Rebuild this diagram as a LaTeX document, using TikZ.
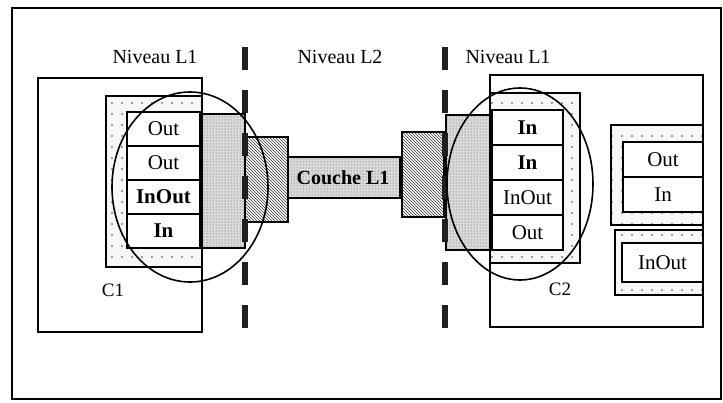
\documentclass[tikz,border=0pt]{standalone}
\usepackage{fontspec}
\setmainfont{Liberation Serif}
\usepackage{tikz}
\usetikzlibrary{positioning,patterns,shapes.geometric}
\pgfdeclarepatternformonly{sparse dots}{\pgfqpoint{-1pt}{-1pt}}{\pgfqpoint{10pt}{10pt}}{\pgfqpoint{10pt}{11pt}}{%
  \pgfpathcircle{\pgfqpoint{2pt}{2pt}}{0.9pt}\pgfusepath{fill}}

\begin{document}
\begin{tikzpicture}[
  x=1pt,y=-1pt,
  every node/.style={inner sep=0pt,outer sep=0pt},
  frame/.style={draw,line width=1.8pt},
  comp/.style={draw,line width=1.8pt,fill=white},
  grp/.style={draw,line width=1.8pt,preaction={fill=gray!6},pattern=sparse dots,pattern color=gray!50!black},
  port/.style={draw,line width=1.8pt,fill=white,font=\fontsize{21}{23}\selectfont},
  plug/.style={draw,line width=1.8pt,preaction={fill=gray!28},pattern=dots,pattern color=gray!55!black},
  jack/.style={draw,line width=1.8pt,preaction={fill=white},pattern=north west lines,pattern color=gray!40!black},
  cut/.style={line width=6pt,draw=gray!25!black,dash pattern=on 23pt off 20pt},
  zone/.style={draw,ellipse,line width=1.6pt},
  lvl/.style={font=\fontsize{20}{22}\selectfont}
]
\useasboundingbox (0,0) rectangle (723,402);
\node[frame,minimum width=709,minimum height=391] (page) at (366.5,203.5) {};

% levels
\node[lvl] (lvlA) at (155,57) {Niveau L1};
\node[lvl] (lvlB) at (340,57) {Niveau L2};
\node[lvl] (lvlC) at (508,57) {Niveau L1};

% component C1
\node[comp,minimum width=164,minimum height=254] (C1) at (120,205) {};
\node[grp,minimum width=96,minimum height=171] (grpA) at (154,181.5) {};
\node[port,minimum width=73,minimum height=34] (a1) at (163.5,129) {Out};
\node[port,minimum width=73,minimum height=34,below=0pt of a1] (a2) {Out};
\node[port,minimum width=73,minimum height=34,below=0pt of a2,font=\fontsize{21}{23}\selectfont\bfseries] (a3) {InOut};
\node[port,minimum width=73,minimum height=34,below=0pt of a3,font=\fontsize{21}{23}\selectfont\bfseries] (a4) {In};
\node[font=\fontsize{19}{21}\selectfont] (nameA) at (113,290) {C1};

% link through level L2
\node[plug,minimum width=43,minimum height=134] (plugA) at (223.5,181) {};
\node[plug,minimum width=114,minimum height=41,font=\fontsize{20}{22}\selectfont\bfseries] (couche) at (343,177.5) {Couche L1};
\node[jack,minimum width=43,minimum height=85] (jackA) at (266.5,179.5) {};
\node[jack,minimum width=42,minimum height=85] (jackB) at (423,174.5) {};
\node[plug,minimum width=44,minimum height=135] (plugB) at (468,182.5) {};

% component C2
\node[comp,minimum width=213,minimum height=252] (C2) at (596.5,201) {};
\node[grp,minimum width=90,minimum height=170] (grpB) at (535,178) {};
\node[port,minimum width=71,minimum height=35,font=\fontsize{21}{23}\selectfont\bfseries] (b1) at (527.5,127.5) {In};
\node[port,minimum width=71,minimum height=35,below=0pt of b1,font=\fontsize{21}{23}\selectfont\bfseries] (b2) {In};
\node[port,minimum width=71,minimum height=35,below=0pt of b2] (b3) {InOut};
\node[port,minimum width=71,minimum height=35,below=0pt of b3] (b4) {Out};
\node[grp,minimum width=92,minimum height=100] (grpC) at (657,175) {};
\node[port,minimum width=80,minimum height=35] (c1) at (663,159.5) {Out};
\node[port,minimum width=80,minimum height=35,below=0pt of c1] (c2) {In};
\node[grp,minimum width=88,minimum height=65] (grpD) at (659,262.5) {};
\node[port,minimum width=81,minimum height=39] (d1) at (662.5,262.5) {InOut};
\node[font=\fontsize{19}{21}\selectfont] (nameB) at (560,289) {C2};

% level borders
\coordinate (cutAtop) at (245,47);
\coordinate (cutAbot) at (245,330);
\coordinate (cutBtop) at (445,47);
\coordinate (cutBbot) at (445,330);
\draw[cut] (cutAtop) -- (cutAbot);
\draw[cut] (cutBtop) -- (cutBbot);

% zones
\node[zone,minimum width=156,minimum height=190] (zoneA) at (190,187) {};
\node[zone,minimum width=146,minimum height=192] (zoneB) at (520,184) {};
\end{tikzpicture}
\end{document}
